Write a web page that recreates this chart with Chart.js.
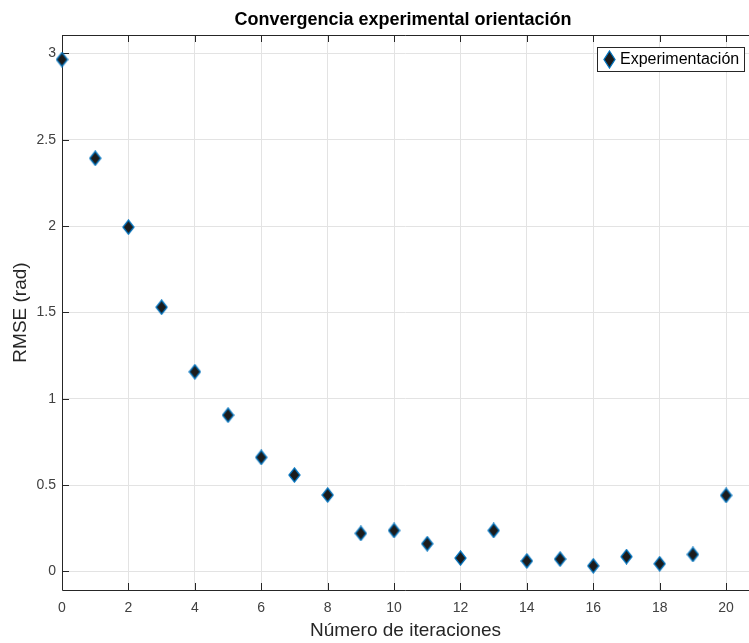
<!DOCTYPE html>
<html>
<head>
<meta charset="utf-8">
<script src="https://cdn.jsdelivr.net/npm/chart.js@4.4.1/dist/chart.umd.min.js"></script>
<style>
  html, body { margin: 0; padding: 0; background: #fff; overflow: hidden; }
  #wrap { width: 749px; height: 643px; overflow: hidden; }
</style>
</head>
<body>
<div id="wrap"><canvas id="convChart" width="758" height="643"></canvas></div>
<script>
// values
var iteraciones = [0, 1, 2, 3, 4, 5, 6, 7, 8, 9, 10, 11, 12, 13, 14, 15, 16, 17, 18, 19, 20];
var rmse = [2.965, 2.393, 1.994, 1.53, 1.156, 0.905, 0.66, 0.558, 0.442, 0.22, 0.237,
            0.16, 0.077, 0.237, 0.06, 0.071, 0.032, 0.085, 0.044, 0.098, 0.44];
var xTicks = [0, 2, 4, 6, 8, 10, 12, 14, 16, 18, 20];
var yTicks = [0, 0.5, 1, 1.5, 2, 2.5, 3];

var FONT = "'Liberation Sans', Arial, Helvetica, sans-serif";
var AXIS = '#262626';
var EDGE = '#0072BD';

// matlab style diamond marker
function makeDiamond(w, h) {
  var c = document.createElement('canvas');
  c.width = w; c.height = h;
  var g = c.getContext('2d');
  g.beginPath();
  g.moveTo(w / 2, 1);
  g.lineTo(w - 1, h / 2);
  g.lineTo(w / 2, h - 1);
  g.lineTo(1, h / 2);
  g.closePath();
  g.fillStyle = '#1c1c1c';
  g.fill();
  g.lineWidth = 1.3;
  g.strokeStyle = EDGE;
  g.stroke();
  return c;
}
var diamond = makeDiamond(13, 16);
var legendDiamond = makeDiamond(13, 19);

var points = iteraciones.map(function(x, i) { return {x: x, y: rmse[i]}; });

var framePlugin = {
  id: 'frame',
  beforeDatasetsDraw: function(chart) {
    var ctx = chart.ctx, a = chart.chartArea;
    var xs = chart.scales.x, ys = chart.scales.y;
    ctx.save();
    ctx.strokeStyle = AXIS;
    ctx.lineWidth = 1;
    ctx.beginPath();
    ctx.moveTo(a.left + 0.5, a.bottom + 0.5);
    ctx.lineTo(a.left + 0.5, a.top + 0.5);
    ctx.lineTo(a.right, a.top + 0.5);
    ctx.moveTo(a.left + 0.5, a.bottom + 0.5);
    ctx.lineTo(a.right, a.bottom + 0.5);
    xTicks.forEach(function(v) {
      var px = Math.round(xs.getPixelForValue(v)) + 0.5;
      ctx.moveTo(px, a.bottom); ctx.lineTo(px, a.bottom - 7);
      ctx.moveTo(px, a.top); ctx.lineTo(px, a.top + 7);
    });
    yTicks.forEach(function(v) {
      var py = Math.round(ys.getPixelForValue(v)) + 0.5;
      ctx.moveTo(a.left, py); ctx.lineTo(a.left + 7, py);
    });
    ctx.stroke();
    ctx.restore();
  },
  afterDraw: function(chart) {
    var ctx = chart.ctx;
    ctx.save();
    // title
    ctx.fillStyle = '#000';
    ctx.font = 'bold 18px ' + FONT;
    ctx.textAlign = 'center';
    ctx.textBaseline = 'middle';
    ctx.fillText('Convergencia experimental orientación', 403, 20);
    // legend box
    var bx = 597, by = 47, bw = 147, bh = 24;
    ctx.fillStyle = '#fff';
    ctx.fillRect(bx, by, bw, bh);
    ctx.strokeStyle = AXIS;
    ctx.lineWidth = 1;
    ctx.strokeRect(bx + 0.5, by + 0.5, bw, bh);
    ctx.drawImage(legendDiamond, 609 - Math.floor(legendDiamond.width / 2), 59.5 - legendDiamond.height / 2);
    ctx.fillStyle = '#000';
    ctx.font = '16px ' + FONT;
    ctx.textAlign = 'left';
    ctx.fillText(chart.data.datasets[0].label, 620, 60);
    ctx.restore();
  }
};

var ctx = document.getElementById('convChart').getContext('2d');
var myChart = new Chart(ctx, {
  type: 'scatter',
  data: {
    datasets: [{
      label: 'Experimentación',
      data: points,
      pointStyle: diamond,
      pointRadius: 8,
      clip: false
    }]
  },
  options: {
    responsive: false,
    animation: false,
    layout: { padding: { top: 35, right: 0, left: 0, bottom: 0 } },
    plugins: {
      legend: { display: false },
      title: { display: false },
      tooltip: { enabled: false }
    },
    scales: {
      x: {
        type: 'linear',
        min: 0,
        max: 20.69,
        afterBuildTicks: function(s) { s.ticks = xTicks.map(function(v) { return {value: v}; }); },
        afterFit: function(s) { s.height = 53; },
        grid: { color: '#e3e3e3', drawTicks: false },
        border: { display: false },
        ticks: {
          padding: 10,
          color: '#404040',
          font: { family: FONT, size: 14 },
          maxRotation: 0,
          callback: function(v) { return String(v); }
        },
        title: {
          display: true,
          text: 'Número de iteraciones',
          color: '#262626',
          font: { family: FONT, size: 19 },
          padding: { top: 0, bottom: 1 }
        }
      },
      y: {
        type: 'linear',
        min: -0.108,
        max: 3.107,
        afterBuildTicks: function(s) { s.ticks = yTicks.map(function(v) { return {value: v}; }); },
        afterFit: function(s) { s.width = 62; },
        grid: { color: '#e3e3e3', drawTicks: false },
        border: { display: false },
        ticks: {
          padding: 6,
          color: '#404040',
          font: { family: FONT, size: 14 },
          callback: function(v) { return String(v); }
        },
        title: {
          display: true,
          text: 'RMSE (rad)',
          color: '#262626',
          font: { family: FONT, size: 19 },
          padding: { top: 9, bottom: 0 }
        }
      }
    }
  },
  plugins: [framePlugin]
});
</script>
</body>
</html>
